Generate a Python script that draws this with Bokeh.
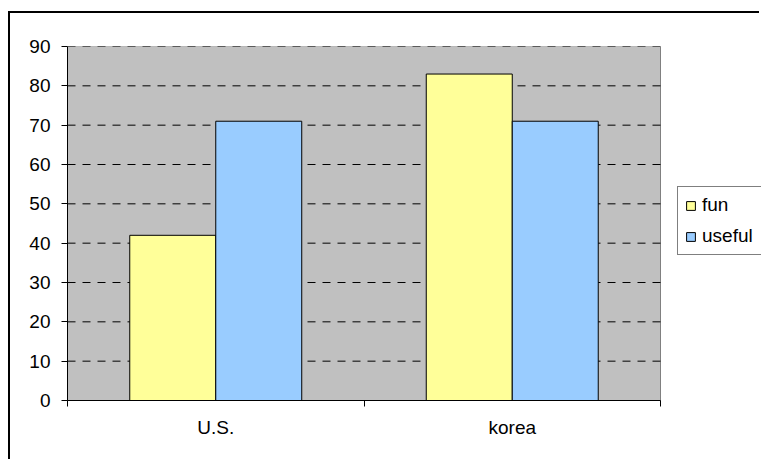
from bokeh.plotting import figure
from bokeh.models import ColumnDataSource, FixedTicker, Legend, LegendItem, Range1d
from bokeh.embed import file_html
from bokeh.resources import INLINE

categories = ["U.S.", "korea"]
fun = [42, 83]
useful = [71, 71]
y_ticks = [0, 10, 20, 30, 40, 50, 60, 70, 80, 90]

FONT = "Liberation Sans"
FS = "19px"

n = len(categories)
centers = [i + 0.5 for i in range(n)]
bw = 0.29
src = ColumnDataSource(dict(
    x_fun=[c - bw / 2 for c in centers],
    x_use=[c + bw / 2 for c in centers],
    fun=fun, useful=useful,
))

# frame spans 694 px, plot area (0..n) spans 593 px; the rest holds the legend
x_end = n * 694 / 593

p = figure(width=751, height=448, output_backend="svg", toolbar_location=None,
           x_range=Range1d(0, x_end), y_range=Range1d(y_ticks[0], y_ticks[-1]),
           min_border_left=57, min_border_right=0, min_border_top=33,
           min_border_bottom=61,
           margin=(11, 0, 0, 8),
           styles={"border-left": "2px solid black", "border-top": "2px solid black"})
p.background_fill_color = "white"
p.border_fill_color = "white"
p.outline_line_color = None
p.xgrid.grid_line_color = None
p.ygrid.grid_line_color = None

# plot area
p.quad(left=[0], right=[n], bottom=[y_ticks[0]], top=[y_ticks[-1]],
       fill_color="#C0C0C0", line_color="#808080", line_width=1)

# gridlines
p.segment(x0=[0] * len(y_ticks), x1=[n] * len(y_ticks), y0=y_ticks, y1=y_ticks,
          line_color="black", line_width=1, line_dash="8 7")

r_fun = p.vbar(x="x_fun", top="fun", width=bw, bottom=0, source=src,
               fill_color="#FFFF99", line_color="black", line_width=1)
r_use = p.vbar(x="x_use", top="useful", width=bw, bottom=0, source=src,
               fill_color="#99CCFF", line_color="black", line_width=1)

# y axis
ya = p.yaxis[0]
ya.ticker = FixedTicker(ticks=y_ticks)
ya.major_tick_out = 6
ya.major_tick_in = 0
ya.minor_tick_line_color = None
ya.axis_line_color = "black"
ya.major_tick_line_color = "black"
ya.major_label_text_font = FONT
ya.major_label_text_font_size = FS
ya.major_label_text_color = "black"
ya.major_label_standoff = 11

# x axis
xa = p.xaxis[0]
xa.bounds = (0, n)
xa.ticker = FixedTicker(ticks=centers, minor_ticks=list(range(n + 1)))
xa.major_label_overrides = {c: name for c, name in zip(centers, categories)}
xa.major_tick_line_color = None
xa.major_tick_out = 0
xa.major_tick_in = 0
xa.minor_tick_line_color = "black"
xa.minor_tick_out = 6
xa.minor_tick_in = 0
xa.axis_line_color = "black"
xa.axis_line_width = 1
xa.major_label_text_font = FONT
xa.major_label_text_font_size = FS
xa.major_label_text_color = "black"
xa.major_label_standoff = 10

legend = Legend(items=[LegendItem(label="fun", renderers=[r_fun]),
                       LegendItem(label="useful", renderers=[r_use])],
                location=(610, 145))
legend.label_text_font = FONT
legend.label_text_font_size = FS
legend.label_text_color = "black"
legend.glyph_width = 11
legend.glyph_height = 11
legend.label_height = 22
legend.label_width = 80
legend.label_standoff = 6
legend.spacing = 9
legend.padding = 7
legend.margin = 0
legend.border_line_color = "black"
legend.border_line_width = 1
legend.background_fill_color = "white"
legend.background_fill_alpha = 1
p.add_layout(legend)

open("out.html", "w").write(file_html(p, INLINE))
